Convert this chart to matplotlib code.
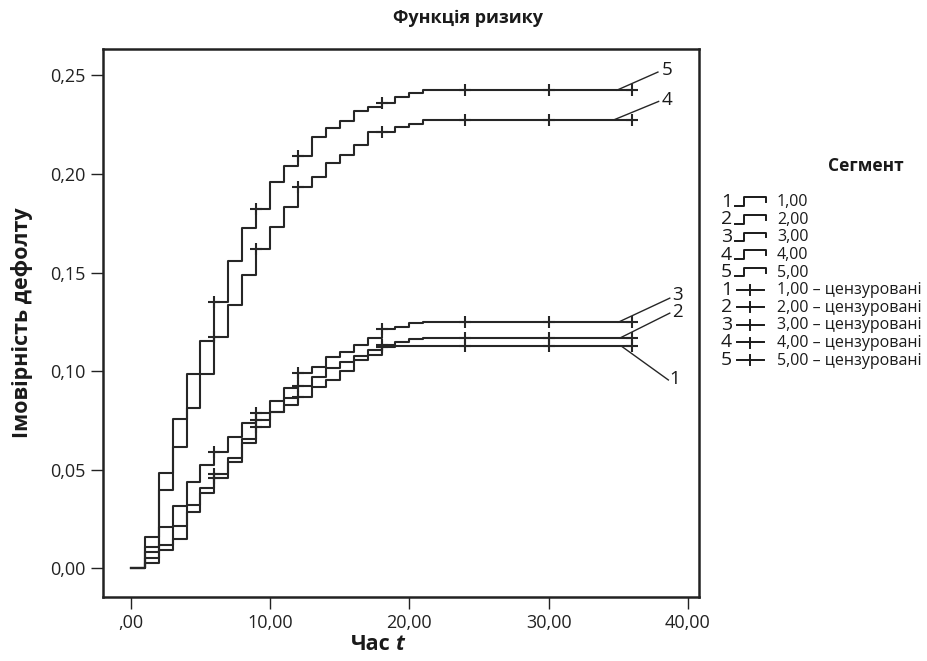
import matplotlib
matplotlib.use("Agg")
import matplotlib.pyplot as plt
from matplotlib.lines import Line2D

plt.rcParams['font.family'] = ['Open Sans', 'DejaVu Sans']

# ---- data ----
times = [0, 1, 2, 3, 4, 5, 6, 7, 8, 9, 10, 11, 12, 13, 14, 15, 16, 17, 18, 19, 20, 21]
end_time = 36

seg1 = [0, 0.0025, 0.0092, 0.0148, 0.0287, 0.038, 0.046, 0.054, 0.0634, 0.0718, 0.0793,
        0.0828, 0.0868, 0.092, 0.0955, 0.100, 0.1057, 0.108, 0.1124, 0.1126, 0.1128, 0.1128]
seg2 = [0, 0.005, 0.0118, 0.0216, 0.032, 0.0405, 0.048, 0.0558, 0.0656, 0.0752, 0.0795,
        0.0862, 0.0925, 0.0972, 0.1015, 0.1048, 0.1077, 0.1108, 0.113, 0.115, 0.1163, 0.1167]
seg3 = [0, 0.0084, 0.021, 0.0317, 0.0439, 0.0524, 0.0591, 0.0667, 0.0735, 0.0786, 0.085,
        0.0913, 0.099, 0.1023, 0.1074, 0.1099, 0.1133, 0.1167, 0.1213, 0.1226, 0.1243, 0.1248]
seg4 = [0, 0.0109, 0.0397, 0.0617, 0.0815, 0.0987, 0.1175, 0.1336, 0.149, 0.1619, 0.173,
        0.1835, 0.1932, 0.1987, 0.2055, 0.2097, 0.2148, 0.2211, 0.2215, 0.2238, 0.2255, 0.2275]
seg5 = [0, 0.016, 0.0485, 0.0756, 0.0987, 0.1155, 0.135, 0.156, 0.1728, 0.182, 0.1957,
        0.2042, 0.2092, 0.219, 0.2233, 0.2267, 0.2321, 0.2338, 0.236, 0.2393, 0.241, 0.2425]

series = [seg1, seg2, seg3, seg4, seg5]
series_names = ['1', '2', '3', '4', '5']
censor_times = [6, 9, 12, 18, 24, 30, 36]

legend_labels = ['1,00', '2,00', '3,00', '4,00', '5,00',
                 '1,00 – цензуровані', '2,00 – цензуровані', '3,00 – цензуровані',
                 '4,00 – цензуровані', '5,00 – цензуровані']
legend_numbers = ['1', '2', '3', '4', '5', '1', '2', '3', '4', '5']

x_ticks = [0, 10, 20, 30, 40]
x_ticklabels = [',00', '10,00', '20,00', '30,00', '40,00']
y_ticks = [0.0, 0.05, 0.10, 0.15, 0.20, 0.25]
y_ticklabels = ['0,00', '0,05', '0,10', '0,15', '0,20', '0,25']

# label leader lines: (start time on curve, end x, end y, text x, text y)
label_pos = {
    '5': (34.9, 37.85, 0.2517, 38.1, 0.2529),
    '4': (34.7, 37.9, 0.2368, 38.1, 0.2377),
    '3': (35.0, 38.7, 0.1370, 38.9, 0.1387),
    '2': (35.1, 38.7, 0.1294, 38.9, 0.1300),
    '1': (35.2, 38.6, 0.0955, 38.7, 0.0960),
}

W, H = 927, 661
fig = plt.figure(figsize=(W / 100, H / 100), dpi=100)
ax = fig.add_axes([103 / W, 1 - 597 / H, (699 - 103) / W, (597 - 49) / H])

line_color = '#262626'


def value_at(vals, t):
    v = vals[0]
    for tt, vv in zip(times, vals):
        if tt <= t:
            v = vv
    return v


for vals in series:
    xs = list(times) + [end_time]
    ys = list(vals) + [vals[-1]]
    ax.step(xs, ys, where='post', color=line_color, lw=1.5)
    cy = [value_at(vals, t) for t in censor_times]
    ax.plot(censor_times, cy, linestyle='none', marker='+', markersize=8,
            markeredgewidth=1.5, color=line_color)

for name, vals in zip(series_names, series):
    t0, ex, ey, tx, ty = label_pos[name]
    y0 = value_at(vals, t0)
    ax.plot([t0, ex], [y0, ey], color=line_color, lw=1.0, clip_on=False)
    ax.text(tx, ty, name, ha='left', va='center', fontsize=13.5, color='#1a1a1a',
            clip_on=False)

ax.set_xlim(-2.0, 40.8)
ax.set_ylim(-0.0146, 0.2634)
ax.set_xticks(x_ticks)
ax.set_xticklabels(x_ticklabels)
ax.set_yticks(y_ticks)
ax.set_yticklabels(y_ticklabels)
ax.tick_params(axis='both', direction='out', length=8.5, width=1.0, colors='#222222',
               labelsize=13, pad=4)
for sp in ax.spines.values():
    sp.set_linewidth(1.8)
    sp.set_color('#222222')

# title and axis labels
fig.text(468 / W, 1 - 18 / H, 'Функція ризику', ha='center', va='center',
         fontsize=13, fontweight='bold', color='#1a1a1a')
fig.text(22 / W, 1 - 323 / H, 'Імовірність дефолту', ha='center', va='center',
         rotation=90, fontsize=15.5, fontweight='bold', color='#1a1a1a')
fig.text(391 / W, 1 - 645 / H, 'Час', ha='right', va='center',
         fontsize=15.5, fontweight='bold', color='#1a1a1a')
fig.text(395 / W, 1 - 645 / H, 't', ha='left', va='center',
         fontsize=15.5, fontweight='bold', fontstyle='italic', color='#1a1a1a')

# legend drawn manually
fig.text(866 / W, 1 - 166 / H, 'Сегмент', ha='center', va='center',
         fontsize=12.5, fontweight='bold', color='#1a1a1a')


def fl(xs, ys, lw=1.4):
    fig.add_artist(Line2D([x / W for x in xs], [1 - y / H for y in ys],
                          transform=fig.transFigure, color='#1a1a1a', lw=lw))


row0, dy = 201.7, 17.6
for i, (num, lab) in enumerate(zip(legend_numbers, legend_labels)):
    yc = row0 + i * dy
    fig.text(732 / W, 1 - yc / H, num, ha='right', va='center', fontsize=14,
             color='#1a1a1a')
    if i < 5:
        fl([735, 744.3, 744.3, 766, 766], [yc + 4.3, yc + 4.3, yc - 4.3, yc - 4.3, yc + 0.5])
    else:
        fl([736.7, 764], [yc, yc])
        fl([750, 750], [yc - 5, yc + 5])
    fig.text(777 / W, 1 - (yc + 0.5) / H, lab, ha='left', va='center', fontsize=11.5,
             color='#1a1a1a')

fig.savefig('out.png', dpi=100, facecolor='white')
